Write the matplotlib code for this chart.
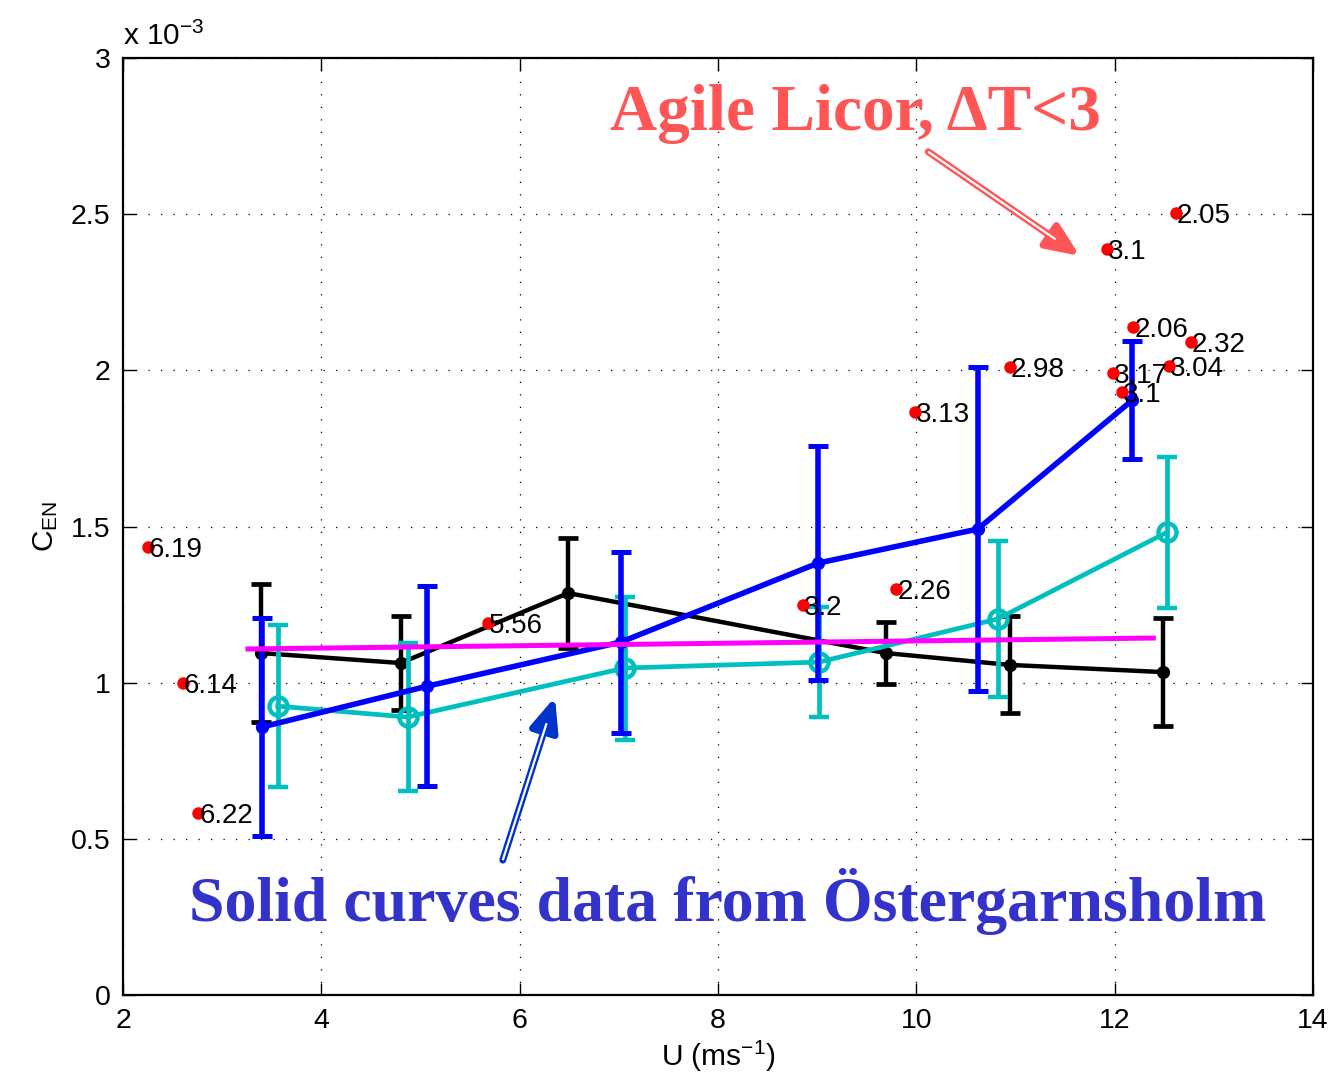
import numpy as np
import matplotlib
matplotlib.use("Agg")
import matplotlib.pyplot as plt

plt.rcParams['font.family'] = ['Liberation Sans', 'DejaVu Sans']
plt.rcParams['mathtext.default'] = 'regular'

# values in units of 1e-3
# black curve
u_k = [3.39, 4.80, 6.49, 9.69, 10.94, 12.49]
c_k = [1.095, 1.063, 1.287, 1.095, 1.057, 1.034]
e_k = [0.22, 0.15, 0.175, 0.10, 0.155, 0.173]
# blue curve
u_b = [3.40, 5.07, 7.02, 9.01, 10.62, 12.18]
c_b = [0.858, 0.989, 1.130, 1.383, 1.492, 1.905]
e_b = [0.35, 0.32, 0.29, 0.375, 0.52, 0.19]
# cyan curve
u_c = [3.56, 4.87, 7.06, 9.02, 10.82, 12.53]
c_c = [0.925, 0.890, 1.047, 1.066, 1.204, 1.482]
e_c = [0.26, 0.237, 0.229, 0.175, 0.25, 0.242]
# magenta fit
u_m = [3.26, 12.39]
c_m = [1.108, 1.143]
# Agile Licor points and their dT labels
u_r = [2.25, 2.60, 2.76, 5.68, 8.86, 9.80, 9.99, 10.94, 12.62, 11.92, 12.19, 12.77, 12.55, 11.98, 12.07]
c_r = [1.435, 0.999, 0.583, 1.191, 1.249, 1.300, 1.867, 2.011, 2.503, 2.388, 2.139, 2.091, 2.014, 1.991, 1.931]
lab_r = ['6.19', '6.14', '6.22', '5.56', '3.2', '2.26', '3.13', '2.98', '2.05', '3.1', '2.06', '2.32', '3.04', '3.17', '3.1']

fig = plt.figure(figsize=(13.37, 10.87), dpi=100)
ax = fig.add_axes([0.092, 0.0846, 0.890, 0.862])

ax.errorbar(u_k, c_k, yerr=e_k, color='black', lw=3.2, marker='o', ms=8.5,
            capsize=7, capthick=3.4, zorder=3)
ax.errorbar(u_c, c_c, yerr=e_c, color='#00BFBF', lw=3.4, marker='o', ms=13,
            mfc='none', mew=3.2, capsize=7, capthick=3.4, zorder=4)
ax.errorbar(u_b, c_b, yerr=e_b, color='blue', lw=4, marker='o', ms=8.5,
            capsize=7, capthick=3.6, zorder=5)
ax.plot(u_m, c_m, color='magenta', lw=3.6, zorder=6)

ax.plot(u_r, c_r, 'o', color='red', ms=8, zorder=7)
for x, y, s in zip(u_r, c_r, lab_r):
    ax.text(x + 0.01, y - 0.01, s, fontsize=20, ha='left', va='center', zorder=8)

ax.set_xlim(2, 14)
ax.set_ylim(0, 3)
ax.set_xticks(np.arange(2, 15, 2))
ax.set_yticks([0, 0.5, 1, 1.5, 2, 2.5, 3])
ax.set_yticklabels(['0', '0.5', '1', '1.5', '2', '2.5', '3'])
ax.tick_params(direction='in', length=9, width=1, top=True, right=True,
               labelsize=20.5, pad=9)
ax.grid(True, linestyle=(0, (1, 9)), color='black', lw=0.9)
for sp in ax.spines.values():
    sp.set_linewidth(1.6)

ax.set_xlabel('U (ms$^{-1}$)', fontsize=21.5, labelpad=4)
ax.set_ylabel('C$_{EN}$', fontsize=21.5, labelpad=8)
ax.text(0.0, 1.008, 'x 10$^{-3}$', transform=ax.transAxes, fontsize=21.5,
        ha='left', va='bottom')

# annotations
ax.text(9.39, 2.82, 'Agile Licor, \u0394T<3', color='#FF5555', fontsize=47,
        fontweight='bold', family=['Liberation Serif', 'DejaVu Serif'],
        ha='center', va='center', zorder=9)
ax.text(8.10, 0.30, 'Solid curves data from \u00d6stergarnsholm', color='#3333CC',
        fontsize=46, fontweight='bold', family=['Liberation Serif', 'DejaVu Serif'],
        ha='center', va='center', zorder=9)

def hollow_arrow(tail, head, col):
    ax.annotate('', xy=head, xytext=tail,
                arrowprops=dict(arrowstyle='-|>,head_length=2.0,head_width=0.85',
                                color=col, lw=5, shrinkA=0, shrinkB=0), zorder=9)
    t = np.array(tail)
    h = np.array(head)
    ax.plot([t[0], t[0] + 0.84 * (h[0] - t[0])], [t[1], t[1] + 0.84 * (h[1] - t[1])],
            color='white', lw=1.6, solid_capstyle='butt', zorder=10)

hollow_arrow((10.12, 2.70), (11.65, 2.366), '#FF5555')
hollow_arrow((5.83, 0.432), (6.356, 0.954), '#0033CC')

fig.savefig('out.png', dpi=100)
